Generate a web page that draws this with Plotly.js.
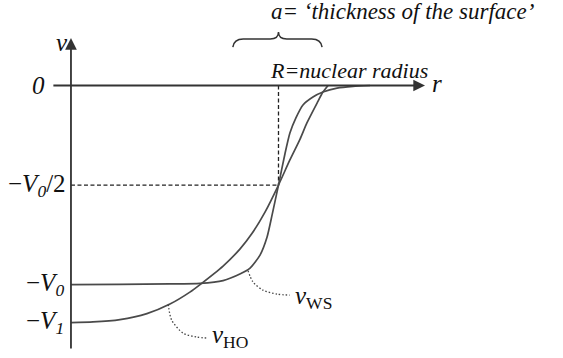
<!DOCTYPE html>
<html>
<head>
<meta charset="utf-8">
<script src="https://cdn.plot.ly/plotly-3.0.1.min.js"></script>
<style>
  html, body { margin: 0; padding: 0; background: #fff; }
  #chart { width: 563px; height: 358px; }
</style>
</head>
<body>
<div id="chart"></div>
<script>
// Radius in units of R, potential in units of V0.
const R = 1;
const V0 = 1;
const V1 = 1.19;
const surfaceThickness = 0.43;

// Woods-Saxon potential, sampled points
const rWS = [0, 0.236, 0.477, 0.622, 0.733, 0.814, 0.863, 0.911, 0.945, 0.969, 1.000, 1.031, 1.055, 1.084, 1.118, 1.166, 1.214, 1.282, 1.359, 1.441];
const vWS = [-1.000, -0.999, -0.997, -0.994, -0.980, -0.947, -0.917, -0.852, -0.761, -0.651, -0.500, -0.344, -0.239, -0.163, -0.098, -0.058, -0.033, -0.013, -0.004, 0.000];

// Harmonic-oscillator potential, sampled points
const rHO = [0, 0.106, 0.236, 0.366, 0.477, 0.573, 0.622, 0.733, 0.814, 0.872, 0.935, 1.000, 1.055, 1.104, 1.137, 1.186, 1.214, 1.239];
const vHO = [-1.191, -1.188, -1.176, -1.146, -1.098, -1.038, -1.000, -0.907, -0.822, -0.744, -0.636, -0.500, -0.374, -0.269, -0.188, -0.088, -0.033, 0.000];

// Dotted leader lines from the curves to their labels
const rLeadWS = [0.853, 0.877, 0.925, 0.993, 1.055];
const vLeadWS = [-0.930, -0.987, -1.028, -1.048, -1.053];
const rLeadHO = [0.469, 0.485, 0.540, 0.607, 0.660];
const vLeadHO = [-1.100, -1.178, -1.244, -1.264, -1.269];

// Axis extents
const rAxis = [-0.092, 1.706];
const vAxis = [-1.329, 0.239];

const curveLine = { color: '#4a4a4a', width: 1.7, shape: 'spline', smoothing: 0.6 };
const leaderLine = { color: '#444', width: 1.3, dash: '1.5px,2px', shape: 'spline', smoothing: 0.8 };
const guideLine = { color: '#222', width: 1.3, dash: '4px,2.5px' };

const traces = [
  { x: [0, R], y: [-V0 / 2, -V0 / 2], mode: 'lines', line: guideLine },
  { x: [R, R], y: [0, -V0 / 2], mode: 'lines', line: guideLine },
  { x: rWS, y: vWS, mode: 'lines', line: curveLine },
  { x: rHO, y: vHO, mode: 'lines', line: curveLine },
  { x: rLeadWS, y: vLeadWS, mode: 'lines', line: leaderLine },
  { x: rLeadHO, y: vLeadHO, mode: 'lines', line: leaderLine }
];

function label(text, x, y, xanchor, size) {
  return {
    text: text, x: x, y: y, xref: 'x', yref: 'y',
    xanchor: xanchor, yanchor: 'middle', showarrow: false,
    font: { family: 'Liberation Serif', size: size || 25, color: '#111' }
  };
}

// Curly brace spanning the surface thickness, centred on R
const bL = R - surfaceThickness / 2 - 0.005;
const bR = R + surfaceThickness / 2 - 0.005;
const yEnd = 0.193, yMid = 0.234, yTip = 0.269;
const bracePath =
  `M ${bL},${yEnd} Q ${bL + 0.005},${yMid} ${bL + 0.05},${yMid} ` +
  `L ${R - 0.04},${yMid} Q ${R},${yMid} ${R},${yTip} ` +
  `Q ${R},${yMid} ${R + 0.04},${yMid} ` +
  `L ${bR - 0.05},${yMid} Q ${bR - 0.005},${yMid} ${bR},${yEnd}`;

const layout = {
  width: 563,
  height: 358,
  margin: { l: 0, r: 0, t: 0, b: 0 },
  paper_bgcolor: '#fff',
  plot_bgcolor: '#fff',
  showlegend: false,
  xaxis: { range: [-0.342, 2.371], visible: false },
  yaxis: { range: [-1.369, 0.4296], visible: false },
  shapes: [
    { type: 'path', path: bracePath, xref: 'x', yref: 'y', line: { color: '#333', width: 1.5 } }
  ],
  annotations: [
    // axes with arrowheads
    { x: rAxis[1], y: 0, ax: rAxis[0], ay: 0, axref: 'x', ayref: 'y', xref: 'x', yref: 'y', text: '', showarrow: true, arrowhead: 2, arrowsize: 1.3, arrowwidth: 1.8, arrowcolor: '#333' },
    { x: 0, y: vAxis[1], ax: 0, ay: vAxis[0], axref: 'x', ayref: 'y', xref: 'x', yref: 'y', text: '', showarrow: true, arrowhead: 2, arrowsize: 1.3, arrowwidth: 1.8, arrowcolor: '#333' },
    label('<i>v</i>', -0.043, 0.215, 'center'),
    label('<i>r</i>', 1.73, 0.01, 'left'),
    label('<i>0</i>', -0.116, 0, 'right'),
    label('−<i>V<sub>0</sub></i>/2', -0.014, -0.5, 'right'),
    label('−<i>V<sub>0</sub></i>', -0.024, -1.0, 'right'),
    label('−<i>V<sub>1</sub></i>', -0.024, -1.19, 'right'),
    label('<i>a= ‘thickness of the surface’</i>', 0.955, 0.37, 'left', 23),
    label('<i>R=nuclear radius</i>', 0.95, 0.075, 'left', 22),
    label('<i>v</i><sub>WS</sub>', 1.068, -1.065, 'left'),
    label('<i>v</i><sub>HO</sub>', 0.668, -1.26, 'left')
  ]
};

Plotly.newPlot('chart', traces, layout, { staticPlot: true, displayModeBar: false });
</script>
</body>
</html>
